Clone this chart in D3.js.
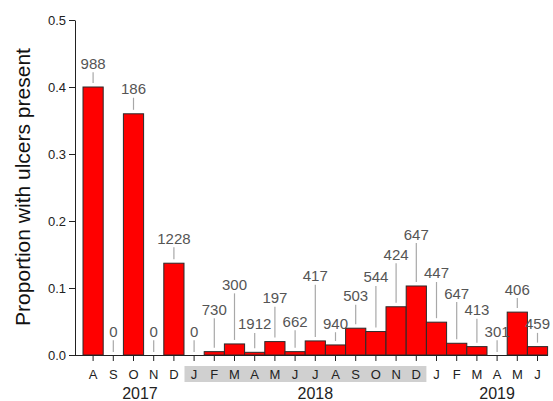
<!DOCTYPE html>
<html>
<head>
<meta charset="utf-8">
<script src="https://cdn.jsdelivr.net/npm/d3@7"></script>
<style>
  html, body { margin: 0; padding: 0; background: #fff; }
  svg { display: block; font-family: "Liberation Sans", Arial, sans-serif; }
</style>
</head>
<body>
<svg id="chart" width="553" height="401"></svg>
<script>
// Monthly sampling, Aug 2017 – Jun 2019
const months = ["A","S","O","N","D","J","F","M","A","M","J","J","A","S","O","N","D","J","F","M","A","M","J"];
// Proportion of animals with ulcers present
const proportions = [0.40, 0, 0.36, 0, 0.137, 0, 0.005, 0.0165, 0.004, 0.02, 0.005, 0.021, 0.015, 0.04, 0.035, 0.072, 0.103, 0.049, 0.0175, 0.0125, 0, 0.064, 0.0125];
// Number of animals examined each month
const sampleSizes = [988, 0, 186, 0, 1228, 0, 730, 300, 1912, 197, 662, 417, 940, 503, 544, 424, 647, 447, 647, 413, 301, 406, 459];
// Height (on the proportion scale) at which each sample-size label sits
const labelLevels = [0.422, 0.022, 0.384, 0.022, 0.161, 0.022, 0.055, 0.092, 0.033, 0.072, 0.037, 0.105, 0.034, 0.075, 0.103, 0.137, 0.167, 0.109, 0.079, 0.054, 0.022, 0.085, 0.033];
const yTicks = [0, 0.1, 0.2, 0.3, 0.4, 0.5];
// Year captions: label, first and last month index, and the (fractional) month index it is centred on
const years = [
  { label: "2017", first: 0,  last: 4,  at: 2.32 },
  { label: "2018", first: 5,  last: 16, at: 11 },
  { label: "2019", first: 17, last: 22, at: 20 }
];
const shadedYear = "2018";

const svg = d3.select("#chart");
const idx = d3.range(months.length);

const x = d3.scaleBand().domain(idx).range([83, 547.6]).padding(0);
const y = d3.scaleLinear().domain([0, 0.5]).range([355, 20]);
const xc = i => x(i) + x.bandwidth() / 2;
// centre of a possibly fractional month index
const xAt = t => x(0) + (t + 0.5) * x.step();

// Shaded band behind the 2018 month labels
const sy = years.find(d => d.label === shadedYear);
svg.append("rect")
  .attr("x", x(sy.first) + 0.5)
  .attr("y", 366)
  .attr("width", x(sy.last) + x.bandwidth() - x(sy.first) - 0.5)
  .attr("height", 16)
  .attr("fill", "#d0d0d0");

// Bars
svg.append("g").selectAll("rect")
  .data(idx.filter(i => proportions[i] > 0))
  .join("rect")
  .attr("x", i => x(i))
  .attr("y", i => y(proportions[i]))
  .attr("width", x.bandwidth())
  .attr("height", i => y(0) - y(proportions[i]))
  .attr("fill", "#ff0000")
  .attr("stroke", "#2a2a2a")
  .attr("stroke-width", 1);

// Leader lines to the sample-size labels
svg.append("g").selectAll("line")
  .data(idx)
  .join("line")
  .attr("x1", xc).attr("x2", xc)
  .attr("y1", i => y(labelLevels[i]))
  .attr("y2", i => proportions[i] > 0 ? y(proportions[i]) - 4 : y(0) - 3)
  .attr("stroke", "#a8a8a8")
  .attr("stroke-width", 1.2);

// Sample-size labels
svg.append("g").selectAll("text")
  .data(idx)
  .join("text")
  .attr("x", xc)
  .attr("y", i => y(labelLevels[i]) - 3.5)
  .attr("text-anchor", "middle")
  .attr("font-size", 15)
  .attr("fill", "#555")
  .text(i => sampleSizes[i]);

// Y axis
const yAxis = svg.append("g")
  .attr("transform", "translate(75,0)")
  .call(d3.axisLeft(y).tickValues(yTicks).tickFormat(d3.format(".1f")).tickSize(6).tickSizeOuter(0));
yAxis.select(".domain").attr("stroke", "#222");
yAxis.selectAll(".tick line").attr("stroke", "#222");
yAxis.selectAll(".tick text").attr("font-size", 13).attr("fill", "#222")
  .attr("font-family", "'Liberation Sans', Arial, sans-serif").attr("x", -9);

// X axis
const xAxis = svg.append("g")
  .attr("transform", `translate(0,${y(0)})`)
  .call(d3.axisBottom(x).tickFormat(i => months[i]).tickSize(6).tickSizeOuter(0));
xAxis.select(".domain").attr("d", "M75,0.5H548").attr("stroke", "#222");
xAxis.selectAll(".tick line").attr("stroke", "#222");
xAxis.selectAll(".tick text").attr("font-size", 13).attr("fill", "#222")
  .attr("font-family", "'Liberation Sans', Arial, sans-serif").attr("dy", "1.15em");

// Year captions
svg.append("g").selectAll("text")
  .data(years)
  .join("text")
  .attr("x", d => xAt(d.at))
  .attr("y", 399)
  .attr("text-anchor", "middle")
  .attr("font-size", 16)
  .attr("fill", "#222")
  .text(d => d.label);

// Y axis title
svg.append("text")
  .attr("transform", "translate(30,187) rotate(-90)")
  .attr("text-anchor", "middle")
  .attr("font-size", 21)
  .attr("fill", "#111")
  .text("Proportion with ulcers present");
</script>
</body>
</html>
